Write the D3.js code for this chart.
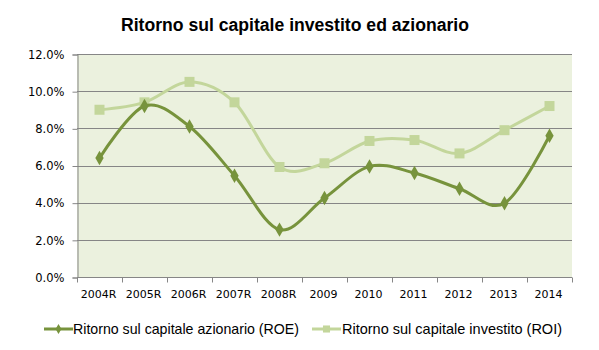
<!DOCTYPE html>
<html>
<head>
<meta charset="utf-8">
<script src="https://cdn.jsdelivr.net/npm/d3@7"></script>
<style>
  body { margin: 0; background: #fff; }
  svg { display: block; }
</style>
</head>
<body>
<div id="chart"></div>
<script>
// categories and the two series (percent values)
const years = ["2004R", "2005R", "2006R", "2007R", "2008R", "2009", "2010", "2011", "2012", "2013", "2014"];
const roe = [6.4, 9.2, 8.1, 5.45, 2.55, 4.25, 5.95, 5.6, 4.75, 3.97, 7.6];
const roi = [9.0, 9.4, 10.5, 9.4, 5.92, 6.12, 7.32, 7.37, 6.65, 7.9, 9.2];
const yTicks = [0, 2, 4, 6, 8, 10, 12];

const seriesNames = ["Ritorno sul capitale azionario (ROE)", "Ritorno sul capitale investito (ROI)"];
const titleText = "Ritorno sul capitale investito ed azionario";

const W = 599, H = 350;
const plotL = 77, plotR = 572, plotT = 54, plotB = 277;

const svg = d3.select("#chart").append("svg")
  .attr("width", W)
  .attr("height", H);

let xScale = d3.scaleBand()
  .domain(years)
  .range([plotL, plotR]);

let yScale = d3.scaleLinear()
  .domain([0, 12])
  .range([plotB, plotT]);

// plot background
svg.append("rect")
  .attr("x", plotL).attr("y", plotT)
  .attr("width", plotR - plotL).attr("height", plotB - plotT)
  .attr("fill", "#EBF1DE");

// gridlines
svg.append("g").selectAll("line")
  .data(yTicks.filter(d => d > 0))
  .enter().append("line")
  .attr("x1", plotL).attr("x2", plotR)
  .attr("y1", d => Math.round(yScale(d)) + 0.5).attr("y2", d => Math.round(yScale(d)) + 0.5)
  .attr("stroke", "#868686")
  .attr("stroke-width", 1);

// y axis
let y_axis = d3.axisLeft(yScale)
  .tickValues(yTicks)
  .tickSize(5)
  .tickPadding(8)
  .tickFormat(d => d.toFixed(1) + "%");

let gy = svg.append("g")
  .attr("transform", "translate(" + (plotL + 0.5) + ",0.5)")
  .call(y_axis);
gy.select(".domain").attr("stroke", "#868686");
gy.selectAll(".tick line").attr("stroke", "#868686");
gy.selectAll(".tick text")
  .attr("font-family", "DejaVu Sans")
  .attr("font-size", "11.5px")
  .attr("fill", "#000");

// x axis, ticks on band edges
let gx = svg.append("g")
  .attr("transform", "translate(0," + (plotB + 0.5) + ")");
gx.append("line")
  .attr("x1", plotL).attr("x2", plotR)
  .attr("stroke", "#868686");
gx.selectAll(".xt")
  .data(years.concat(["end"]))
  .enter().append("line")
  .attr("class", "xt")
  .attr("x1", (d, i) => Math.round(plotL + i * xScale.step()) + 0.5)
  .attr("x2", (d, i) => Math.round(plotL + i * xScale.step()) + 0.5)
  .attr("y1", 0).attr("y2", 5)
  .attr("stroke", "#868686");
gx.selectAll(".xl")
  .data(years)
  .enter().append("text")
  .attr("class", "xl")
  .attr("x", d => xScale(d) + xScale.bandwidth() / 2 - 1)
  .attr("y", 20.5)
  .attr("text-anchor", "middle")
  .attr("font-family", "DejaVu Sans")
  .attr("font-size", "11px")
  .attr("fill", "#000")
  .text(d => d);

const cx = d => xScale(d) + xScale.bandwidth() / 2;

const line = d3.line()
  .x((d, i) => cx(years[i]))
  .y(d => yScale(d))
  .curve(d3.curveCatmullRom.alpha(0));

// ROI (light) first, ROE on top
svg.append("path")
  .datum(roi)
  .attr("d", line)
  .attr("fill", "none")
  .attr("stroke", "#C3D69B")
  .attr("stroke-width", 3);

svg.append("g").selectAll("rect")
  .data(roi)
  .enter().append("rect")
  .attr("x", (d, i) => cx(years[i]) - 5)
  .attr("y", d => yScale(d) - 5)
  .attr("width", 10).attr("height", 10)
  .attr("fill", "#C3D69B");

svg.append("path")
  .datum(roe)
  .attr("d", line)
  .attr("fill", "none")
  .attr("stroke", "#77933C")
  .attr("stroke-width", 3);

const diamond = d3.symbol().type(d3.symbolDiamond).size(60);
svg.append("g").selectAll("path")
  .data(roe)
  .enter().append("path")
  .attr("d", diamond)
  .attr("transform", (d, i) => "translate(" + cx(years[i]) + "," + yScale(d) + ")")
  .attr("fill", "#77933C");

// title
svg.append("text")
  .attr("x", 121).attr("y", 31)
  .attr("font-family", "Liberation Sans")
  .attr("font-weight", "bold")
  .attr("font-size", "18px")
  .attr("textLength", 348)
  .attr("lengthAdjust", "spacingAndGlyphs")
  .attr("fill", "#000")
  .text(titleText);

// legend
const legendItems = [
  { name: seriesNames[0], color: "#77933C", x: 44, tx: 73, tw: 226, marker: "diamond" },
  { name: seriesNames[1], color: "#C3D69B", x: 312, tx: 342, tw: 220, marker: "square" }
];
const lg = svg.append("g").selectAll("g")
  .data(legendItems)
  .enter().append("g");
lg.append("line")
  .attr("x1", d => d.x).attr("x2", d => d.x + 29)
  .attr("y1", 329).attr("y2", 329)
  .attr("stroke", d => d.color)
  .attr("stroke-width", 3);
lg.append("path")
  .attr("d", d => d.marker === "diamond"
    ? d3.symbol().type(d3.symbolDiamond).size(30)()
    : d3.symbol().type(d3.symbolSquare).size(50)())
  .attr("transform", d => "translate(" + (d.x + 14.5) + ",329)")
  .attr("fill", d => d.color);
lg.append("text")
  .attr("x", d => d.tx).attr("y", 334)
  .attr("font-family", "Liberation Sans")
  .attr("font-size", "14.5px")
  .attr("textLength", d => d.tw)
  .attr("lengthAdjust", "spacingAndGlyphs")
  .attr("fill", "#000")
  .text(d => d.name);
</script>
</body>
</html>
